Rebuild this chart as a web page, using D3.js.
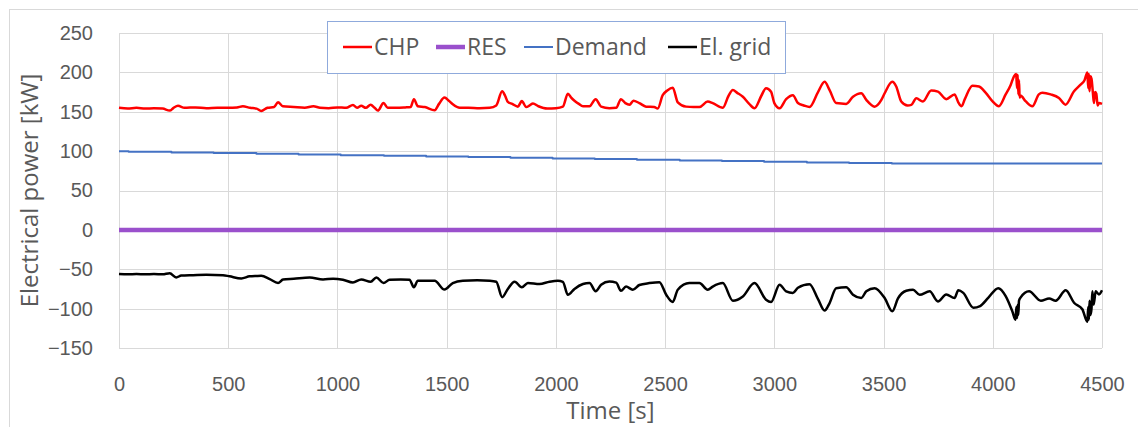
<!DOCTYPE html>
<html>
<head>
<meta charset="utf-8">
<script src="https://cdn.jsdelivr.net/npm/d3@7"></script>
<style>
    body { margin: 0; background: #fff; }
    svg { display: block; font-family: 'Open Sans', 'Noto Sans', sans-serif; }
    .axis text { fill: #595959; font-size: 20px; }
    .axis-title { fill: #595959; font-size: 24px; }
    .legend text { fill: #595959; font-size: 23px; }
</style>
</head>
<body>
<svg id="chart"></svg>
<script>
// values
const chpTime = [0, 40, 80, 120, 160, 200, 232, 250, 270, 300, 350, 400, 450, 500, 540, 567, 600, 630, 651, 680,
    710, 728, 750, 800, 850, 890, 920, 960, 1000, 1040, 1071, 1090, 1109, 1130, 1152, 1170, 1185, 1211, 1230, 1270,
    1310, 1335, 1350, 1368, 1400, 1445, 1465, 1490, 1510, 1528, 1560, 1600, 1650, 1697, 1727, 1754, 1768, 1780, 1800, 1826,
    1844, 1864, 1880, 1895, 1920, 1960, 2000, 2032, 2055, 2070, 2085, 2105, 2124, 2154, 2182, 2207, 2245, 2276, 2298, 2318,
    2337, 2355, 2382, 2413, 2450, 2466, 2489, 2510, 2535, 2558, 2596, 2630, 2657, 2695, 2718, 2764, 2790, 2810, 2830, 2856,
    2885, 2909, 2940, 2962, 2985, 3000, 3024, 3054, 3085, 3108, 3135, 3161, 3200, 3230, 3253, 3283, 3329, 3360, 3398, 3421,
    3459, 3490, 3505, 3540, 3558, 3581, 3610, 3627, 3650, 3680, 3718, 3749, 3787, 3825, 3842, 3857, 3872, 3907, 3937, 3968,
    3998, 4028, 4059, 4082, 4097, 4107, 4111, 4114, 4117, 4120, 4123, 4127, 4150, 4181, 4211, 4227, 4265, 4303, 4333, 4372,
    4402, 4420, 4433, 4437, 4440, 4443, 4447, 4452, 4458, 4463, 4468, 4474, 4480, 4486, 4500];
const chpPower = [155, 154, 155, 154, 154.5, 154, 151.5, 155, 157.5, 155, 155.5, 154.5, 155, 155, 155.5, 157, 155, 154, 151, 155,
    156, 162, 157, 156, 155, 157, 155, 154.5, 155.5, 155, 158.5, 155, 157.5, 155, 159, 155, 151.5, 161, 155, 155,
    155.5, 156, 166, 157, 156, 152, 160, 168, 164, 159.5, 155, 155, 154.5, 155, 158, 176, 170, 162.5, 160, 156.5,
    163.5, 156, 158, 160.5, 157, 154, 154.5, 156.5, 173, 168, 164, 160, 157, 157, 166, 156.5, 154.5, 155, 166, 161,
    159, 164, 161, 156.5, 156, 154, 171, 177, 180.5, 162, 156.5, 156, 156, 163, 161, 155, 170, 177.5, 174, 169,
    160, 154.5, 170, 180, 175.5, 161, 154.5, 166, 171, 161, 158, 156, 175, 188, 177.5, 161, 160, 169, 173.5, 165,
    156.5, 165, 173.5, 188, 182, 163, 158, 158.8, 167, 163, 177, 175.5, 166, 172, 162, 157, 166, 183, 182, 174,
    163.5, 157, 172, 184, 195, 198, 180, 197, 172, 190, 168, 170.5, 163.5, 157, 172, 174, 172, 167.5, 159, 176,
    184.5, 190, 200, 180, 198, 176, 195, 192, 175, 161, 175, 173, 158, 161, 160];

const resTime = [0, 4500];
const resPower = [0, 0];

const demandTime = [0, 44, 240, 433, 629, 822, 1015, 1213, 1406, 1599, 1792, 1985, 2178, 2371, 2567, 2760, 2953, 3149, 3342, 3538, 4500];
const demandPower = [100, 99.2, 98.4, 97.5, 96.6, 95.8, 94.9, 94.1, 93.3, 92.4, 91.6, 90.7, 89.9, 89.1, 88.2, 87.4, 86.6, 85.7, 84.9, 84.3, 84.3];

const gridTime = [0, 40, 80, 120, 160, 200, 232, 262, 285, 339, 400, 476, 506, 560, 598, 630, 651, 690, 728, 751,
    800, 873, 934, 980, 1025, 1071, 1109, 1152, 1178, 1211, 1239, 1290, 1330, 1350, 1368, 1445, 1490, 1528, 1574, 1640,
    1697, 1727, 1754, 1780, 1811, 1844, 1872, 1925, 1971, 2009, 2032, 2055, 2085, 2124, 2154, 2182, 2207, 2245, 2276, 2298,
    2321, 2352, 2382, 2428, 2474, 2505, 2535, 2558, 2611, 2657, 2695, 2718, 2764, 2810, 2856, 2909, 2962, 2985, 3024, 3054,
    3085, 3108, 3161, 3200, 3230, 3253, 3283, 3329, 3360, 3398, 3421, 3459, 3505, 3540, 3566, 3604, 3635, 3665, 3711, 3749,
    3787, 3825, 3842, 3865, 3911, 3942, 3980, 4025, 4059, 4089, 4104, 4108, 4111, 4114, 4117, 4120, 4127, 4166, 4220, 4258,
    4288, 4334, 4372, 4410, 4433, 4437, 4440, 4443, 4447, 4452, 4456, 4462, 4471, 4486, 4500];
const gridPower = [-56, -56.5, -56, -56.5, -56, -56.5, -55, -60.4, -58, -57.5, -57, -57.5, -59, -61.7, -59, -58.5, -58.3, -62.5, -67.5, -63,
    -62, -60.4, -63, -62, -63.3, -66.7, -63, -65.8, -60.4, -67.5, -63.3, -63, -63.3, -73, -64.6, -64.6, -75.8, -67.5, -64.6, -64,
    -64.6, -65.8, -85.4, -75, -65.8, -73, -67.5, -68.8, -65.8, -64.6, -66, -82.5, -75, -68.8, -67.5, -78, -69.6, -65.5, -67, -77.3,
    -72, -76, -70, -67.6, -66.4, -82.4, -91.6, -76, -67.6, -67.6, -76, -72, -67.6, -90, -84.5, -67.6, -88.7, -91.6, -69.7, -78,
    -80, -73.5, -69, -88, -102.5, -92.9, -74, -73, -82.4, -86.5, -78, -74, -86.5, -103.4, -87, -77.3, -76, -82.4, -78, -90.8,
    -82, -86.5, -76.7, -80, -98.8, -96.7, -86, -74, -84, -103, -114, -98, -112, -95, -108, -90, -86, -78, -90, -87,
    -90, -76.7, -92.5, -100.8, -116.7, -98, -114, -90, -108, -100, -78, -95, -78, -82, -76.7];

const seriesNames = ['CHP', 'RES', 'Demand', 'El. grid'];
const xTicks = [0, 500, 1000, 1500, 2000, 2500, 3000, 3500, 4000, 4500];
const yTicks = [-150, -100, -50, 0, 50, 100, 150, 200, 250];

class LineChart {

    constructor(_config, _data) {
        this.config = {
            parentElement: _config.parentElement,
            containerWidth: 1138,
            containerHeight: 427,
            margin: {top: 33, right: 36, bottom: 79, left: 119}
        }
        this.data = _data;
        this.initVis();
    }

    initVis() {
        let vis = this;

        vis.width = vis.config.containerWidth - vis.config.margin.left - vis.config.margin.right;
        vis.height = vis.config.containerHeight - vis.config.margin.top - vis.config.margin.bottom;

        vis.xScale = d3.scaleLinear()
            .domain([0, 4500])
            .range([0, vis.width]);

        vis.yScale = d3.scaleLinear()
            .domain([-150, 250])
            .range([vis.height, 0]);

        vis.xAxis = d3.axisBottom(vis.xScale)
            .tickValues(xTicks)
            .tickFormat(d3.format('d'))
            .tickSize(0)
            .tickPadding(29);

        vis.yAxis = d3.axisLeft(vis.yScale)
            .tickValues(yTicks)
            .tickFormat(d3.format('d'))
            .tickSize(0)
            .tickPadding(26);

        vis.svg = d3.select(vis.config.parentElement)
            .attr('width', vis.config.containerWidth)
            .attr('height', vis.config.containerHeight);

        // outer chart border (only top and left are visible)
        vis.svg.append('rect')
            .attr('x', 9.5)
            .attr('y', 9.5)
            .attr('width', vis.config.containerWidth + 20)
            .attr('height', vis.config.containerHeight + 20)
            .attr('fill', 'none')
            .attr('stroke', '#d9d9d9');

        vis.chart = vis.svg.append('g')
            .attr('transform', `translate(${vis.config.margin.left},${vis.config.margin.top})`);

        // gridlines
        vis.chart.append('g').selectAll('line.h')
            .data(yTicks)
            .join('line')
            .attr('x1', 0)
            .attr('x2', vis.width)
            .attr('y1', d => Math.round(vis.yScale(d)) + 0.5)
            .attr('y2', d => Math.round(vis.yScale(d)) + 0.5)
            .attr('stroke', '#d9d9d9');

        vis.chart.append('g').selectAll('line.v')
            .data(xTicks)
            .join('line')
            .attr('x1', d => Math.round(vis.xScale(d)) + 0.5)
            .attr('x2', d => Math.round(vis.xScale(d)) + 0.5)
            .attr('y1', 0)
            .attr('y2', vis.height)
            .attr('stroke', '#d9d9d9');

        vis.xAxisG = vis.chart.append('g')
            .attr('class', 'axis x-axis')
            .attr('transform', `translate(0,${vis.height})`);

        vis.yAxisG = vis.chart.append('g')
            .attr('class', 'axis y-axis');

        vis.svg.append('text')
            .attr('class', 'axis-title')
            .attr('x', vis.config.margin.left + vis.width / 2)
            .attr('y', 419)
            .attr('text-anchor', 'middle')
            .text('Time [s]');

        vis.svg.append('text')
            .attr('class', 'axis-title')
            .attr('transform', `translate(38,${vis.config.margin.top + vis.height / 2}) rotate(-90)`)
            .attr('text-anchor', 'middle')
            .text('Electrical power [kW]');
    }

    renderVis() {
        let vis = this;

        vis.line = d3.line()
            .x(d => vis.xScale(d.t))
            .y(d => vis.yScale(d.v))
            .curve(d3.curveMonotoneX);

        vis.stepLine = d3.line()
            .x(d => vis.xScale(d.t))
            .y(d => vis.yScale(d.v))
            .curve(d3.curveStepAfter);

        vis.chart.selectAll('.series')
            .data(vis.data)
            .join('path')
            .attr('class', 'series')
            .attr('fill', 'none')
            .attr('stroke', d => d.color)
            .attr('stroke-width', d => d.width)
            .attr('stroke-linejoin', 'round')
            .attr('d', d => (d.step ? vis.stepLine : vis.line)(d.values));

        vis.xAxisG.call(vis.xAxis)
            .call(g => g.select('.domain').remove());

        vis.yAxisG.call(vis.yAxis)
            .call(g => g.select('.domain').remove());

        // legend
        const legend = vis.svg.append('g')
            .attr('class', 'legend');

        legend.append('rect')
            .attr('x', 327.5)
            .attr('y', 21.5)
            .attr('width', 458)
            .attr('height', 52)
            .attr('fill', '#fff')
            .attr('stroke', '#8faadc');

        const legendX = [343, 436, 524, 668];
        const entries = legend.selectAll('.entry')
            .data(vis.data)
            .join('g')
            .attr('class', 'entry')
            .attr('transform', (d, i) => `translate(${legendX[i]},47)`);

        entries.append('line')
            .attr('x1', 0)
            .attr('x2', 29)
            .attr('stroke', d => d.color)
            .attr('stroke-width', d => d.width);

        entries.append('text')
            .attr('x', 31)
            .attr('y', 8)
            .text(d => d.name);
    }
}

const toPoints = (times, values) => times.map((t, i) => ({t: t, v: values[i]}));

const data = [
    {name: seriesNames[0], color: '#ff0000', width: 2.5, values: toPoints(chpTime, chpPower)},
    {name: seriesNames[1], color: '#9a50cc', width: 4.5, values: toPoints(resTime, resPower)},
    {name: seriesNames[2], color: '#4472c4', width: 2, step: true, values: toPoints(demandTime, demandPower)},
    {name: seriesNames[3], color: '#000000', width: 2.5, values: toPoints(gridTime, gridPower)}
];

const chart = new LineChart({parentElement: '#chart'}, data);
chart.renderVis();
</script>
</body>
</html>
